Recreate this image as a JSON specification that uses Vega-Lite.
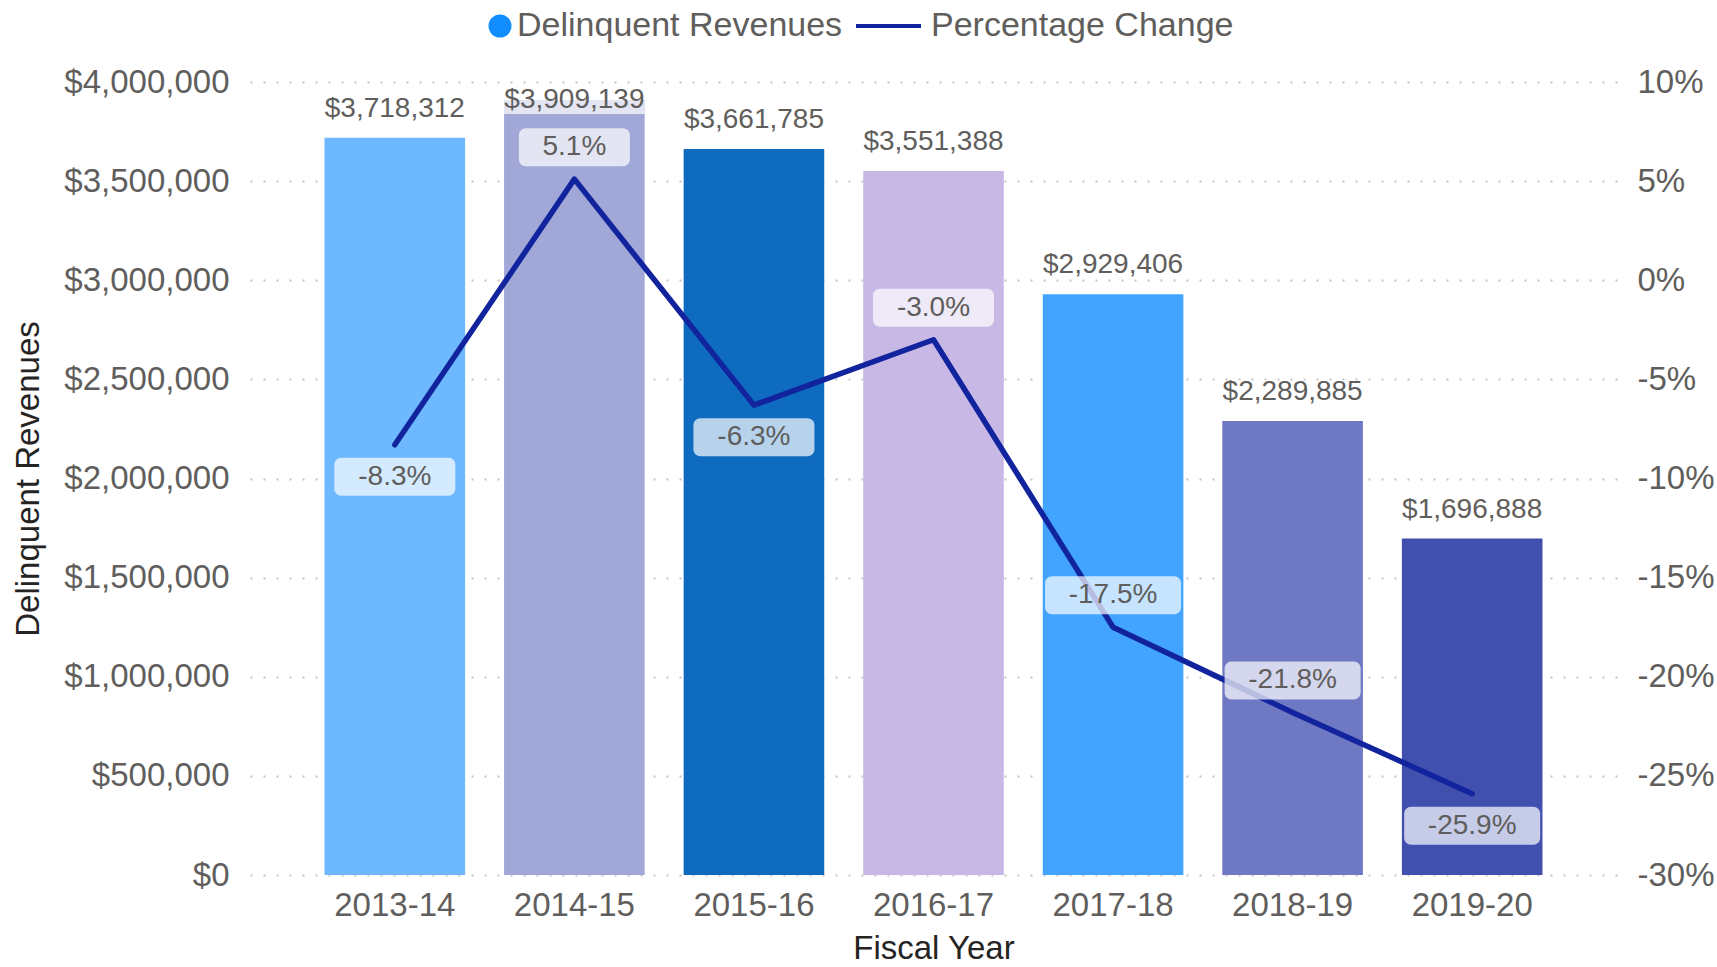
{
  "$schema": "https://vega.github.io/schema/vega-lite/v6.json",
  "width": 1367,
  "height": 793,
  "autosize": {"type": "none"},
  "padding": {"left": 250, "top": 82, "right": 100, "bottom": 92},
  "background": "white",
  "config": {
    "font": "Liberation Sans",
    "view": {"stroke": null},
    "locale": {
      "number": {"decimal": ".", "thousands": ",", "grouping": [3], "currency": ["$", ""], "minus": "-"}
    }
  },
  "data": {
    "values": [
      {"year": "2013-14", "rev": 3718312, "pct": -0.083},
      {"year": "2014-15", "rev": 3909139, "pct": 0.051},
      {"year": "2015-16", "rev": 3661785, "pct": -0.063},
      {"year": "2016-17", "rev": 3551388, "pct": -0.030},
      {"year": "2017-18", "rev": 2929406, "pct": -0.175},
      {"year": "2018-19", "rev": 2289885, "pct": -0.218},
      {"year": "2019-20", "rev": 1696888, "pct": -0.259}
    ]
  },
  "encoding": {
    "x": {
      "field": "year",
      "type": "nominal",
      "sort": null,
      "scale": {"paddingInner": 0.217, "paddingOuter": 0.415},
      "axis": {
        "title": "Fiscal Year",
        "labelAngle": 0,
        "labelFontSize": 33,
        "labelColor": "#605E5C",
        "labelPadding": 14,
        "titleFontSize": 33,
        "titleColor": "#252423",
        "titleFontWeight": "normal",
        "titlePadding": 10,
        "domain": false,
        "ticks": false,
        "grid": false
      }
    }
  },
  "layer": [
    {
      "encoding": {
        "y": {
          "field": "rev",
          "type": "quantitative",
          "scale": {"domain": [0, 4000000], "nice": false, "zero": true},
          "axis": {
            "title": "Delinquent Revenues",
            "format": "$,.0f",
            "values": [0, 500000, 1000000, 1500000, 2000000, 2500000, 3000000, 3500000, 4000000],
            "labelFontSize": 33,
            "labelColor": "#605E5C",
            "labelPadding": 21,
            "ticks": false,
            "domain": false,
            "grid": true,
            "gridDash": [2, 11],
            "gridColor": "#C8C6C4",
            "gridWidth": 2,
            "titleFontSize": 33,
            "titleColor": "#252423",
            "titleFontWeight": "normal",
            "titlePadding": 18
          }
        }
      },
      "layer": [
        {
          "mark": {"type": "bar"},
          "encoding": {
            "color": {
              "field": "year",
              "type": "nominal",
              "scale": {
                "domain": ["2013-14", "2014-15", "2015-16", "2016-17", "2017-18", "2018-19", "2019-20"],
                "range": ["#6EB8FF", "#A1A8D8", "#0F6BC0", "#C8B8E5", "#42A4FF", "#6F79C3", "#4150AF"]
              },
              "legend": null
            }
          }
        },
        {
          "transform": [{"filter": {"field": "year", "equal": "2014-15"}}],
          "mark": {"type": "bar", "color": "white", "opacity": 0.7, "y2Offset": 14},
          "encoding": {"y2": {"field": "rev"}}
        },
        {
          "transform": [{"filter": {"not": {"field": "year", "equal": "2014-15"}}}],
          "mark": {"type": "text", "color": "#605E5C", "fontSize": 28, "baseline": "alphabetic", "dy": -21},
          "encoding": {"text": {"field": "rev", "type": "quantitative", "format": "$,.0f"}}
        },
        {
          "transform": [{"filter": {"field": "year", "equal": "2014-15"}}],
          "mark": {"type": "text", "color": "#605E5C", "fontSize": 28, "baseline": "alphabetic", "dy": 7.5},
          "encoding": {"text": {"field": "rev", "type": "quantitative", "format": "$,.0f"}}
        }
      ]
    },
    {
      "encoding": {
        "y": {
          "field": "pct",
          "type": "quantitative",
          "scale": {"domain": [-0.3, 0.1], "nice": false, "zero": false},
          "axis": {
            "orient": "right",
            "title": null,
            "format": ".0%",
            "values": [-0.3, -0.25, -0.2, -0.15, -0.1, -0.05, 0, 0.05, 0.1],
            "labelFontSize": 33,
            "labelColor": "#605E5C",
            "labelPadding": 20,
            "ticks": false,
            "domain": false,
            "grid": false
          }
        }
      },
      "layer": [
        {
          "mark": {"type": "line", "strokeWidth": 5.5, "strokeCap": "round", "strokeJoin": "round"},
          "encoding": {
            "stroke": {
              "datum": "Percentage Change",
              "type": "nominal",
              "scale": {
                "domain": ["Delinquent Revenues", "Percentage Change"],
                "range": ["#118DFF", "#12239E"]
              },
              "legend": {
                "title": null,
                "orient": "none",
                "direction": "horizontal",
                "legendX": 192,
                "legendY": -76,
                "labelFontSize": 34,
                "labelColor": "#605E5C",
                "labelLimit": 0,
                "labelOffset": 10,
                "columnPadding": 13,
                "symbolType": "stroke",
                "symbolSize": 4225,
                "symbolStrokeWidth": 0,
                "clipHeight": 40,
                "encode": {
                  "symbols": {
                    "update": {
                      "shape": {"signal": "datum.value === 'Delinquent Revenues' ? 'circle' : 'stroke'"},
                      "size": {"signal": "datum.value === 'Delinquent Revenues' ? 529 : 4225"},
                      "x": {"signal": "datum.value === 'Delinquent Revenues' ? 58 : 32.5"},
                      "fill": {"signal": "datum.value === 'Delinquent Revenues' ? '#118DFF' : 'transparent'"},
                      "stroke": {"signal": "datum.value === 'Delinquent Revenues' ? '#118DFF' : '#12239E'"},
                      "strokeWidth": {"signal": "datum.value === 'Delinquent Revenues' ? 0 : 4"},
                      "opacity": {"value": 1}
                    }
                  },
                  "labels": {
                    "update": {
                      "x": {"value": 75},
                      "limit": {"value": 0}
                    }
                  }
                }
              }
            }
          }
        },
        {
          "transform": [{"filter": {"field": "year", "oneOf": ["2014-15", "2016-17", "2017-18", "2018-19"]}}],
          "mark": {"type": "bar", "color": "white", "opacity": 0.7, "cornerRadius": 7, "yOffset": -51, "y2Offset": -13},
          "encoding": {
            "y2": {"field": "pct"},
            "size": {
              "field": "pct",
              "type": "quantitative",
              "scale": {"type": "threshold", "domain": [-0.1, 0], "range": [136, 121, 111]},
              "legend": null
            }
          }
        },
        {
          "transform": [{"filter": {"field": "year", "oneOf": ["2013-14", "2015-16", "2019-20"]}}],
          "mark": {"type": "bar", "color": "white", "opacity": 0.7, "cornerRadius": 7, "yOffset": 13, "y2Offset": 51},
          "encoding": {
            "y2": {"field": "pct"},
            "size": {
              "field": "pct",
              "type": "quantitative",
              "scale": {"type": "threshold", "domain": [-0.1, 0], "range": [136, 121, 111]},
              "legend": null
            }
          }
        },
        {
          "transform": [{"filter": {"field": "year", "oneOf": ["2014-15", "2016-17", "2017-18", "2018-19"]}}],
          "mark": {"type": "text", "color": "#605E5C", "fontSize": 28, "baseline": "middle", "dy": -32},
          "encoding": {"text": {"field": "pct", "type": "quantitative", "format": ".1%"}}
        },
        {
          "transform": [{"filter": {"field": "year", "oneOf": ["2013-14", "2015-16", "2019-20"]}}],
          "mark": {"type": "text", "color": "#605E5C", "fontSize": 28, "baseline": "middle", "dy": 32},
          "encoding": {"text": {"field": "pct", "type": "quantitative", "format": ".1%"}}
        }
      ]
    }
  ],
  "resolve": {"scale": {"y": "independent"}}
}
